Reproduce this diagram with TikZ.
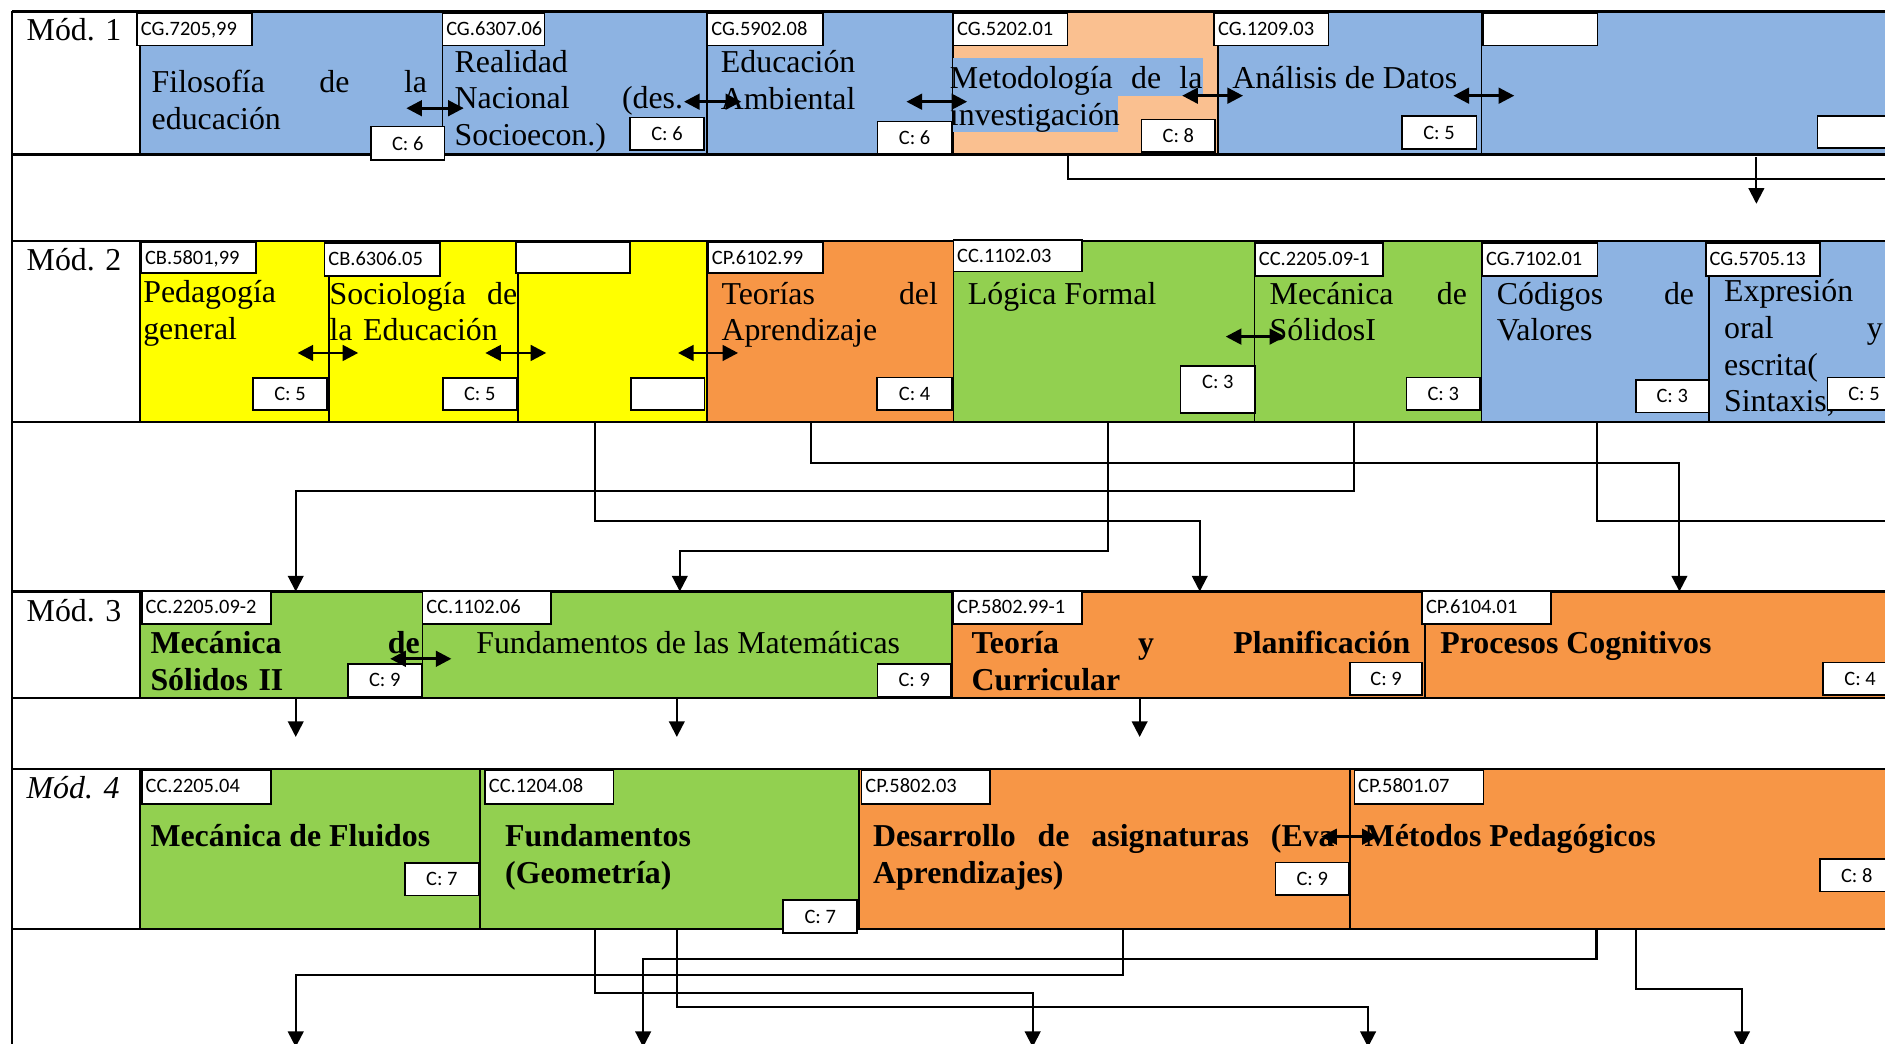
\documentclass[tikz,border=0pt]{standalone}
\usepackage{fontspec}
\setmainfont{Liberation Serif}
\newfontfamily\calib{Carlito}
\usetikzlibrary{arrows.meta,calc}
\definecolor{blueC}{HTML}{8DB3E2}
\definecolor{lorange}{HTML}{FAC090}
\definecolor{orangeC}{HTML}{F79646}
\definecolor{greenC}{HTML}{92D050}
\definecolor{yellowC}{HTML}{FFFF00}
\newcommand\cellbx[6]{\node[cell, fill=#6, minimum width={#4-#2}, minimum height={#5-#3}] (#1) at (#2,#3) {};}
\newcommand\codebx[6]{\node[codebox, minimum width={#4-#2}, minimum height={#5-#3}] (#1) at (#2,#3) {};
  \node[codetxt] (#1t) at ($(#1.north west)+(3,18.5)$) {#6};}
\newcommand\cvbx[6]{\node[cvbox, minimum width={#4-#2}, minimum height={#5-#3}] (#1) at (#2,#3) {#6};}
\newcommand\dblarr[4]{\draw[dbl] ($(#1.north east)+(#2,#4)$) -- ($(#1.north east)+(#3,#4)$);}
\begin{document}
\begin{tikzpicture}[x=1pt,y=-1pt,
  cell/.style={draw=black, line width=1.3pt, inner sep=0pt, outer sep=0pt, anchor=north west},
  codebox/.style={draw=black, fill=white, line width=1.3pt, inner sep=0pt, outer sep=0pt, anchor=north west},
  codetxt/.style={inner sep=0pt, anchor=base west, font=\calib\fontsize{17}{20}\selectfont},
  cvbox/.style={draw=black, fill=white, line width=1.3pt, inner sep=0pt, outer sep=0pt, anchor=north west, font=\calib\fontsize{17}{20}\selectfont},
  txt/.style={inner sep=0pt, anchor=base west, align=left, font=\fontsize{26.5}{30.5}\selectfont},
  txtb/.style={inner sep=0pt, anchor=base west, align=left, font=\fontsize{26.5}{30.5}\selectfont\bfseries},
  rowline/.style={line width=1.8pt},
  conn/.style={line width=1.7pt},
  carr/.style={line width=1.7pt, -{Triangle[length=13pt,width=13pt]}},
  dbl/.style={line width=2.3pt, {Triangle[length=13pt,width=13pt]}-{Triangle[length=13pt,width=13pt]}}
]
\useasboundingbox (0,0) rectangle (1568,868);
\clip (0,0) rectangle (1568,868);
\fill[white] (0,0) rectangle (1568,868);

% ---------- cells ----------
\cellbx{cA}{116.5}{9.5}{368}{128.5}{blueC}
\cellbx{cB}{368}{9.5}{588}{128.5}{blueC}
\cellbx{cC}{588}{9.5}{792.5}{128.5}{blueC}
\cellbx{cD}{792.5}{9.5}{1013}{128.5}{lorange}
\cellbx{cE}{1013}{9.5}{1232.5}{128.5}{blueC}
\cellbx{cF}{1232.5}{9.5}{1580}{128.5}{blueC}
\cellbx{cG}{116.5}{200.5}{273.5}{350.7}{yellowC}
\cellbx{cH}{273.5}{200.5}{431}{350.7}{yellowC}
\cellbx{cI}{431}{200.5}{588}{350.7}{yellowC}
\cellbx{cJ}{588}{200.5}{793}{350.7}{orangeC}
\cellbx{cK}{793}{200.5}{1043.6}{350.7}{greenC}
\cellbx{cL}{1043.6}{200.5}{1232.5}{350.7}{greenC}
\cellbx{cM}{1232.5}{200.5}{1421.6}{350.7}{blueC}
\cellbx{cN}{1421.6}{200.5}{1580}{350.7}{blueC}
\cellbx{cO}{116.5}{492}{351.5}{580.7}{greenC}
\cellbx{cP}{351.5}{492}{792}{580.7}{greenC}
\cellbx{cQ}{792}{492}{1185.5}{580.7}{orangeC}
\cellbx{cR}{1185.5}{492}{1580}{580.7}{orangeC}
\cellbx{cS}{116.5}{639.7}{399.4}{772.8}{greenC}
\cellbx{cT}{399.4}{639.7}{714.7}{772.8}{greenC}
\cellbx{cU}{714.7}{639.7}{1123}{772.8}{orangeC}
\cellbx{cV}{1123}{639.7}{1580}{772.8}{orangeC}

% highlight behind Metodología
\fill[blueC] (793,48.5) rectangle (1001,79.8);
\fill[blueC] (793,79.6) rectangle (930,110);

% ---------- module labels ----------
\node[txt] (m1) at (22,34) {Mód. 1};
\node[txt] (m2) at (22,224.6) {Mód. 2};
\node[txt] (m3) at (22,516.6) {Mód. 3};
\node[txt, font=\fontsize{26.5}{30.5}\selectfont\itshape] (m4) at (22,664) {Mód. 4};

% ---------- course texts ----------
\node[txt, text width=229pt] (tA) at (126,77) {Filosofía\hfill de\hfill la\\educación};
\node[txt, text width=190pt] (tB) at (378,60) {Realidad\\Nacional\hfill (des.\\Socioecon.)};
\node[txt, text width=180pt] (tC) at (599.5,60.5) {Educación\\Ambiental};
\node[txt, text width=210pt] (tD) at (790,74) {Metodología\hfill de\hfill la\\investigación};
\node[txt] (tE) at (1025,74) {Análisis de Datos};

\node[txt, text width=150pt] (tG) at (119,252) {Pedagogía\\general};
\node[txt, text width=156pt] (tH) at (274,253) {Sociología\hfill de\\la Educación};
\node[txt, text width=180pt] (tJ) at (600,253) {Teorías\hfill del\\Aprendizaje};
\node[txt] (tK) at (805,253) {Lógica Formal};
\node[txt, text width=164pt] (tL) at (1056,253) {Mecánica\hfill de\\SólidosI};
\node[txt, text width=164pt] (tM) at (1245,253) {Códigos\hfill de\\Valores};
\node[txt, text width=132pt] (tN) at (1434,251) {Expresión\\oral\hfill y\\escrita(\\Sintaxis,};

\node[txtb, text width=224pt] (tO) at (125,544) {Mecánica\hfill de\\Sólidos II};
\node[txt] (tP) at (396,544) {Fundamentos de las Matemáticas};
\node[txtb, text width=365pt] (tQ) at (808,544) {Teoría\hfill y\hfill Planificación\\Curricular};
\node[txtb] (tR) at (1198,544) {Procesos Cognitivos};

\node[txtb] (tS) at (125,704) {Mecánica de Fluidos};
\node[txtb, text width=250pt] (tT) at (420,704) {Fundamentos\\(Geometría)};
\node[txtb, text width=384pt] (tU) at (726,704) {Desarrollo\hfill de\hfill asignaturas\hfill (Eva\\Aprendizajes)};
\node[txtb] (tV) at (1135,704) {Métodos Pedagógicos};

% ---------- table lines ----------
\draw[rowline] (10,9.5) -- (1580,9.5);
\draw[rowline] (10,128.5) -- (1580,128.5);
\draw[rowline] (10,200.5) -- (1580,200.5);
\draw[rowline] (10,350.7) -- (1580,350.7);
\draw[rowline] (10,492) -- (1580,492);
\draw[rowline] (10,580.7) -- (1580,580.7);
\draw[rowline] (10,639.7) -- (1580,639.7);
\draw[rowline] (10,772.8) -- (1580,772.8);
\draw[rowline] (10,9.5) -- (10,880);

% ---------- code boxes ----------
\codebx{kA}{114}{11}{209.5}{38}{CG.7205,99}
\codebx{kB}{368}{11}{453}{38}{CG.6307.06}
\codebx{kC}{588.5}{11}{684.5}{38}{CG.5902.08}
\codebx{kD}{793}{11}{888}{38}{CG.5202.01}
\codebx{kE}{1010}{11}{1105}{38}{CG.1209.03}
\codebx{kF}{1233.5}{11}{1329}{38}{}
\codebx{kG}{117.5}{201.5}{213}{227}{CB.5801,99}
\codebx{kH}{270}{202}{366}{229.5}{CB.6306.05}
\codebx{kI}{429}{201.5}{524}{227}{}
\codebx{kJ}{589}{201.5}{684.5}{227}{CP.6102.99}
\codebx{kK}{793}{199.6}{900}{226}{CC.1102.03}
\codebx{kL}{1044}{202}{1150.5}{229.5}{CC.2205.09-1}
\codebx{kM}{1233}{202}{1329}{229.5}{CG.7102.01}
\codebx{kN}{1419}{202}{1514}{229.5}{CG.5705.13}
\codebx{kO}{118}{492}{225.5}{519}{CC.2205.09-2}
\codebx{kP}{351.5}{492}{458.5}{519}{CC.1102.06}
\codebx{kQ}{793}{492}{900}{519}{CP.5802.99-1}
\codebx{kR}{1183}{492}{1290}{519}{CP.6104.01}
\codebx{kS}{118}{641}{225.5}{668.7}{CC.2205.04}
\codebx{kT}{403.5}{641}{510.4}{668.7}{CC.1204.08}
\codebx{kU}{716.7}{641}{823.6}{668.7}{CP.5802.03}
\codebx{kV}{1126.6}{641}{1234}{668.7}{CP.5801.07}

% ---------- credit boxes ----------
\cvbx{vA}{308.6}{105.4}{369.7}{133}{C: 6}
\cvbx{vB}{524}{97.6}{585.6}{124.8}{C: 6}
\cvbx{vC}{730}{101}{791.6}{128}{C: 6}
\cvbx{vD}{949.7}{99.3}{1010.7}{126.4}{C: 8}
\cvbx{vE}{1166}{96.5}{1228}{124}{C: 5}
\cvbx{vF}{1512}{96.5}{1575}{123}{}
\cvbx{vG}{210.5}{314.5}{272}{341}{C: 5}
\cvbx{vH}{368.5}{314.5}{429.6}{341}{C: 5}
\cvbx{vI}{525}{314.5}{586}{341}{}
\cvbx{vJ}{729.5}{314}{792}{341}{C: 4}
\cvbx{vK}{982}{304.5}{1044}{343.5}{}
\node[inner sep=0pt, font=\calib\fontsize{17}{20}\selectfont] (vKt) at (1013,318) {C: 3};
\cvbx{vL}{1170}{314}{1231}{341}{C: 3}
\cvbx{vM}{1361}{316}{1421}{343}{C: 3}
\cvbx{vN}{1520}{314}{1581}{341}{C: 5}
\cvbx{vO}{289.5}{552.5}{350.6}{579.5}{C: 9}
\cvbx{vP}{730}{552.5}{791}{579.5}{C: 9}
\cvbx{vQ}{1123}{551}{1183}{578}{C: 9}
\cvbx{vR}{1516.6}{551}{1578}{578}{C: 4}
\cvbx{vS}{336.7}{718}{398.3}{745}{C: 7}
\cvbx{vT}{651.5}{748.6}{713}{776.3}{C: 7}
\cvbx{vU}{1061}{717.6}{1122}{744.5}{C: 9}
\cvbx{vV}{1514}{714.6}{1575}{741.7}{C: 8}

% ---------- double arrows between neighbours ----------
\dblarr{cA}{-30}{17.7}{80.5}
\dblarr{cB}{-19}{28.6}{75.1}
\dblarr{cC}{-38.5}{12}{75.1}
\dblarr{cD}{-29.6}{21}{70.1}
\dblarr{cE}{-23.5}{27.1}{70.1}
\dblarr{cG}{-26}{24.5}{93.1}
\dblarr{cH}{-27.3}{23.4}{93.1}
\dblarr{cI}{-24}{26}{93.1}
\dblarr{cK}{-24}{25.4}{79.5}
\dblarr{cO}{-26.9}{24}{56}
\dblarr{cU}{-24}{23}{56.3}

% ---------- connectors ----------
\coordinate (e1) at (1580,149);
\coordinate (e2) at (1580,433);
\coordinate (e3) at (859,871);
\coordinate (e4) at (1138,871);
\coordinate (e5) at (246,871);
\coordinate (e6) at (535,871);
\coordinate (e7) at (1449,871);

\draw[conn] ($(cD.south west)+(95.5,0)$) |- (e1);
\draw[carr] ($(cF.south west)+(228.5,2.5)$) -- ($(cF.south west)+(228.5,41)$);

\draw[carr] ($(cJ.south west)+(87,0)$) -- ++(0,34.7) -| ($(cR.north west)+(211.5,0)$);
\draw[carr] ($(cK.south west)+(129,0)$) -- ++(0,107.3) -| ($(cP.north west)+(214,0)$);
\draw[carr] ($(cL.south west)+(82.4,0)$) -- ++(0,57.8) -| ($(cO.north west)+(129.5,0)$);
\draw[carr] ($(cI.south west)+(64,0)$) -- ++(0,82.3) -| ($(cQ.north west)+(206,0)$);
\draw[conn] ($(cM.south west)+(96,0)$) |- (e2);

\draw[carr] ($(cO.south west)+(129.5,0)$) -- ++(0,32.3);
\draw[carr] ($(cP.south west)+(211.5,0)$) -- ++(0,32.3);
\draw[carr] ($(cQ.south west)+(156,0)$) -- ++(0,32.3);

\draw[carr] ($(cT.south west)+(95.6,0)$) -- ++(0,53.2) -| (e3);
\draw[carr] ($(cT.south west)+(163.6,0)$) -- ++(0,64.7) -| (e4);
\draw[carr] ($(cU.south west)+(219.3,0)$) -- ++(0,38.2) -| (e5);
\draw[carr] ($(cV.south west)+(205,0)$) -- ++(0,24.8) -| (e6);
\draw[carr] ($(cV.south west)+(238,0)$) -- ++(0,50.2) -| (e7);
\end{tikzpicture}
\end{document}
